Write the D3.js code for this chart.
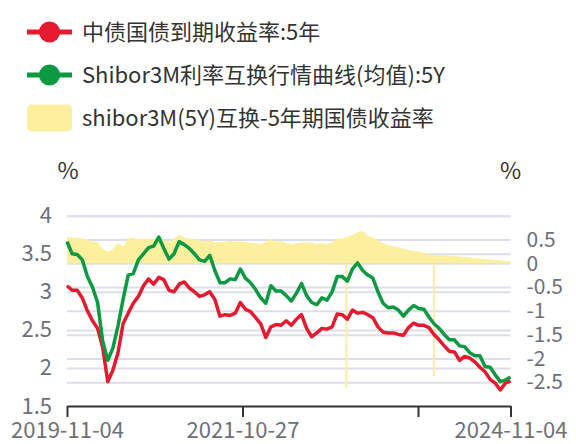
<!DOCTYPE html>
<html>
<head>
<meta charset="utf-8">
<script src="https://cdn.jsdelivr.net/npm/d3@7"></script>
<style>
  body { margin: 0; background: #fff; }
  svg { display: block; font-family: "Noto Sans CJK SC", "Noto Sans", sans-serif; }
</style>
</head>
<body>
<div id="chart"></div>
<script>
// sample dates (every 3 weeks)
const dates = [
  "2019-11-04","2019-11-25","2019-12-16",
  "2020-01-06","2020-01-27","2020-02-17","2020-03-09","2020-03-30","2020-04-20","2020-05-11","2020-06-01","2020-06-22",
  "2020-07-13","2020-08-03","2020-08-24","2020-09-14","2020-10-05","2020-10-26","2020-11-16","2020-12-07","2020-12-28",
  "2021-01-18","2021-02-08","2021-03-01","2021-03-22","2021-04-12","2021-05-03","2021-05-24","2021-06-14","2021-07-05",
  "2021-07-26","2021-08-16","2021-09-06","2021-09-27","2021-10-18","2021-11-08","2021-11-29","2021-12-20",
  "2022-01-10","2022-01-31","2022-02-21","2022-03-14","2022-04-04","2022-04-25","2022-05-16","2022-06-06","2022-06-27",
  "2022-07-18","2022-08-08","2022-08-29","2022-09-19","2022-10-10","2022-10-31","2022-11-21","2022-12-12",
  "2023-01-02","2023-01-23","2023-02-13","2023-03-06","2023-03-27","2023-04-17","2023-05-08","2023-05-29","2023-06-19",
  "2023-07-10","2023-07-31","2023-08-21","2023-09-11","2023-10-02","2023-10-23","2023-11-13","2023-12-04","2023-12-25",
  "2024-01-15","2024-02-05","2024-02-26","2024-03-18","2024-04-08","2024-04-29","2024-05-20","2024-06-10","2024-07-01",
  "2024-07-22","2024-08-12","2024-09-02","2024-09-23","2024-10-14","2024-11-04"
];

// 中债国债到期收益率:5年 (%)
const bondYield = [
  3.08,3.02,3.02,2.92,2.75,2.62,2.52,2.27,1.82,1.97,
  2.20,2.58,2.72,2.85,2.94,3.08,3.17,3.10,3.19,3.16,
  3.02,3.00,3.10,3.13,3.05,3.00,2.94,2.96,3.00,2.90,
  2.68,2.70,2.69,2.72,2.86,2.77,2.74,2.66,2.58,2.40,
  2.54,2.57,2.56,2.62,2.56,2.64,2.70,2.52,2.41,2.46,
  2.52,2.51,2.54,2.71,2.70,2.64,2.76,2.72,2.73,2.70,
  2.66,2.54,2.47,2.46,2.46,2.44,2.43,2.53,2.59,2.56,
  2.56,2.53,2.44,2.37,2.29,2.22,2.21,2.10,2.15,2.13,
  2.08,2.01,1.95,1.85,1.80,1.71,1.80,1.83
];

// Shibor3M利率互换行情曲线(均值):5Y (%)
const swapRate = [
  3.66,3.50,3.49,3.42,3.20,3.06,2.86,2.35,2.10,2.26,
  2.55,2.90,3.22,3.24,3.42,3.50,3.58,3.60,3.72,3.57,
  3.43,3.50,3.66,3.62,3.57,3.50,3.42,3.40,3.48,3.28,
  3.12,3.12,3.17,3.16,3.30,3.18,3.12,3.03,2.92,2.85,
  3.08,3.01,3.01,2.95,2.88,2.98,3.11,2.95,2.86,2.83,
  2.92,2.89,3.00,3.20,3.20,3.14,3.30,3.38,3.28,3.22,
  3.18,3.00,2.85,2.79,2.80,2.76,2.68,2.76,2.82,2.78,
  2.77,2.67,2.58,2.52,2.44,2.37,2.37,2.29,2.28,2.20,
  2.16,2.16,2.02,2.01,1.91,1.82,1.84,1.88
];

// shibor3M(5Y)互换-5年期国债收益率 (%)
const spread = [
  0.56,0.53,0.54,0.52,0.50,0.46,0.45,0.30,0.25,0.30,
  0.42,0.35,0.52,0.54,0.50,0.52,0.50,0.52,0.55,0.48,
  0.45,0.52,0.60,0.54,0.52,0.50,0.48,0.47,0.48,0.44,
  0.45,0.45,0.47,0.46,0.46,0.45,0.43,0.42,0.40,0.46,
  0.52,0.45,0.47,0.42,0.40,0.42,0.44,0.43,0.44,0.40,
  0.42,0.40,0.44,0.52,0.52,0.56,0.60,0.65,0.68,0.58,
  0.54,0.48,0.42,0.38,0.36,0.34,0.30,0.28,0.26,0.25,
  0.22,0.19,0.18,0.17,0.17,0.16,0.15,0.14,0.13,0.12,
  0.10,0.10,0.09,0.08,0.07,0.06,0.04,0.06
];

// single days where the spread drops sharply
const gapDates = ["2022-12-29", "2023-12-25"];
const gapSpread = [-2.63, -2.37];

const leftTicks = [4, 3.5, 3, 2.5, 2, 1.5];
const rightTicks = [0.5, 0, -0.5, -1, -1.5, -2, -2.5];
const rightGrid = [1, 0.5, 0, -0.5, -1, -1.5, -2, -2.5];
const xTickDates = ["2019-11-04", "2021-10-27", "2023-10-20", "2024-11-04"];
const xTickLabels = ["2019-11-04", "2021-10-27", "", "2024-11-04"];

const legendNames = ["中债国债到期收益率:5年", "Shibor3M利率互换行情曲线(均值):5Y", "shibor3M(5Y)互换-5年期国债收益率"];

const width = 576;
const height = 444;
const margin = { top: 215.7, right: 66, bottom: 38, left: 67 };

const red = "#e51a2e";
const green = "#0b9a42";
const yellow = "#fcef9e";
const gridColor = "#dcdfe9";
const labelColor = "#6e7079";

const parse = d3.timeParse("%Y-%m-%d");
const num = d => String(d);

const svg = d3.select("#chart")
  .append("svg")
  .attr("width", width)
  .attr("height", height);

// scales
const x = d3.scaleTime()
  .domain([parse(dates[0]), parse(dates[dates.length - 1])])
  .range([margin.left, width - margin.right + 0.5]);

const yL = d3.scaleLinear()
  .domain([1.5, 4])
  .range([height - margin.bottom, margin.top]);

const yR = d3.scaleLinear()
  .domain([-3, 1])
  .range([height - margin.bottom, margin.top]);

const plotW = x.range()[1] - x.range()[0];

// grid lines
const grid = svg.append("g");
grid.append("g")
  .attr("transform", `translate(${margin.left},0)`)
  .call(d3.axisLeft(yL).tickValues(leftTicks.filter(v => v > 1.5)).tickSize(-plotW).tickFormat(""))
  .call(g => g.select(".domain").remove());
grid.append("g")
  .attr("transform", `translate(${margin.left},0)`)
  .call(d3.axisLeft(yR).tickValues(rightGrid).tickSize(-plotW).tickFormat(""))
  .call(g => g.select(".domain").remove());
grid.selectAll("line")
  .attr("stroke", gridColor)
  .attr("stroke-width", 2);

// spread area
const spreadData = dates.map((d, i) => ({ date: parse(d), v: spread[i] }));
const area = d3.area()
  .x(d => x(d.date))
  .y0(yR(0))
  .y1(d => yR(d.v));

svg.append("path")
  .datum(spreadData)
  .attr("fill", yellow)
  .attr("d", area);

svg.selectAll(".gap")
  .data(gapDates.map((d, i) => ({ date: parse(d), v: gapSpread[i] })))
  .join("rect")
  .attr("class", "gap")
  .attr("x", d => x(d.date) - 1)
  .attr("width", 2)
  .attr("y", yR(0))
  .attr("height", d => yR(d.v) - yR(0))
  .attr("fill", yellow);

// lines
const line = d3.line()
  .x(d => x(d.date))
  .y(d => yL(d.v));

svg.append("path")
  .datum(dates.map((d, i) => ({ date: parse(d), v: bondYield[i] })))
  .attr("fill", "none")
  .attr("stroke", red)
  .attr("stroke-width", 3.5)
  .attr("stroke-linejoin", "round")
  .attr("d", line);

svg.append("path")
  .datum(dates.map((d, i) => ({ date: parse(d), v: swapRate[i] })))
  .attr("fill", "none")
  .attr("stroke", green)
  .attr("stroke-width", 3.5)
  .attr("stroke-linejoin", "round")
  .attr("d", line);

// left axis
svg.append("g")
  .attr("transform", `translate(${margin.left},0)`)
  .call(d3.axisLeft(yL).tickValues(leftTicks).tickFormat(num).tickSize(0).tickPadding(15))
  .call(g => g.select(".domain").remove())
  .selectAll("text")
  .attr("font-family", "Noto Sans CJK SC")
  .attr("font-size", 22)
  .attr("fill", labelColor);

// right axis
svg.append("g")
  .attr("transform", `translate(${x.range()[1]},0)`)
  .call(d3.axisRight(yR).tickValues(rightTicks).tickFormat(num).tickSize(0).tickPadding(16))
  .call(g => g.select(".domain").remove())
  .selectAll("text")
  .attr("font-family", "Noto Sans CJK SC")
  .attr("font-size", 21)
  .attr("fill", labelColor);

// bottom axis
const xAxis = svg.append("g")
  .attr("transform", `translate(0,${height - margin.bottom})`)
  .call(d3.axisBottom(x)
    .tickValues(xTickDates.map(parse))
    .tickFormat((d, i) => xTickLabels[i])
    .tickSize(11)
    .tickSizeOuter(0)
    .tickPadding(5));
xAxis.select(".domain").attr("stroke", "#333").attr("stroke-width", 2);
xAxis.selectAll("line").attr("stroke", "#333").attr("stroke-width", 2);
xAxis.selectAll("text")
  .attr("font-family", "Noto Sans CJK SC")
  .attr("font-size", 22)
  .attr("fill", labelColor);

// unit labels
svg.append("text")
  .attr("x", margin.left + 1)
  .attr("y", 171)
  .attr("dy", "0.35em")
  .attr("text-anchor", "middle")
  .attr("font-size", 23)
  .attr("fill", "#333")
  .text("%");

svg.append("text")
  .attr("x", x.range()[1])
  .attr("y", 171)
  .attr("dy", "0.35em")
  .attr("text-anchor", "middle")
  .attr("font-size", 23)
  .attr("fill", "#333")
  .text("%");

// legend
const legend = svg.append("g").attr("transform", "translate(27,0)");
const legendY = [32, 75, 118];

legendNames.forEach((name, i) => {
  const g = legend.append("g").attr("transform", `translate(0,${legendY[i]})`);
  if (i < 2) {
    const c = i === 0 ? red : green;
    g.append("line")
      .attr("x1", 0).attr("x2", 45)
      .attr("stroke", c)
      .attr("stroke-width", 5);
    g.append("circle")
      .attr("cx", 22.5)
      .attr("r", 10.5)
      .attr("fill", c);
  } else {
    g.append("rect")
      .attr("x", 0).attr("y", -13.5)
      .attr("width", 45).attr("height", 27)
      .attr("rx", 5)
      .attr("fill", yellow);
  }
  g.append("text")
    .attr("x", 55)
    .attr("dy", "0.35em")
    .attr("font-size", 22)
    .attr("fill", "#333")
    .text(name);
});
</script>
</body>
</html>
